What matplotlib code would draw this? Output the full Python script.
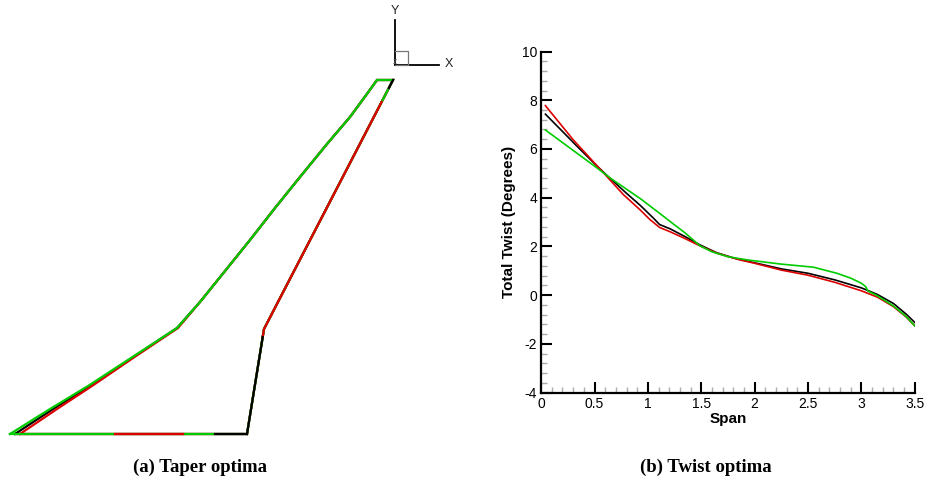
import numpy as np
import matplotlib.pyplot as plt
from matplotlib.ticker import MultipleLocator, FuncFormatter

plt.rcParams['font.family'] = ['Liberation Sans', 'DejaVu Sans']
plt.rcParams['axes.unicode_minus'] = False

# --- Planform outlines (chordwise x, spanwise y), root leading edge at origin ---
le_y = [0, 25, 48, 78, 106, 132, 163, 194, 226, 257, 290, 317, 336, 354]
le_x_base = [2, 40, 77, 122, 164, 187, 212, 237, 262, 287, 314, 337, 351, 364]
le_x_opt_a = [7, 44, 79, 123, 165, 187, 212, 237, 262, 287, 314, 337, 351, 364]
le_x_opt_b = [-3, 37, 75, 121, 164, 187, 212, 237, 262, 287, 314, 337, 351, 364]
te_y = [354, 105, 0]
te_x = [380, 251, 234]

# spanwise stations on the trailing edge where another outline shows on top
te_black_tip = [354, 346]
te_red_out = [332, 97]
te_black_in = [97, 0]
# chordwise stations along the root chord
root_red = [102, 170]
root_black = [202, 234]

# --- Twist distributions ---
span_base = [0.04, 0.2, 0.33, 0.5, 0.62, 0.8, 0.93, 1.05, 1.11, 1.21, 1.35, 1.49,
             1.64, 1.8, 2.0, 2.25, 2.5, 2.75, 3.0, 3.15, 3.3, 3.42, 3.5]
twist_base = [7.43, 6.72, 6.14, 5.40, 4.90, 4.18, 3.68, 3.17, 2.90, 2.72, 2.40, 2.06,
              1.75, 1.53, 1.33, 1.08, 0.90, 0.63, 0.30, 0.03, -0.34, -0.78, -1.12]
span_opt_a = [0.04, 0.30, 0.52, 0.77, 0.93, 1.02, 1.11, 1.21, 1.35,
              1.49, 1.65, 1.86, 2.0, 2.25, 2.5, 2.75, 3.0, 3.15, 3.3, 3.42, 3.5]
twist_opt_a = [7.78, 6.38, 5.33, 4.13, 3.49, 3.10, 2.78, 2.60, 2.32,
               2.02, 1.72, 1.45, 1.31, 1.03, 0.82, 0.53, 0.18, -0.08, -0.47, -0.90, -1.26]
span_opt_b = [0.04, 0.49, 0.65, 0.93, 1.11, 1.21, 1.35, 1.49, 1.6, 1.75, 1.93, 2.24,
              2.55, 2.77, 2.9, 3.0, 3.04, 3.06, 3.14, 3.3, 3.42, 3.5]
twist_opt_b = [6.78, 5.33, 4.80, 3.96, 3.36, 3.02, 2.55, 2.02, 1.78, 1.58, 1.45, 1.28,
               1.15, 0.90, 0.70, 0.49, 0.35, 0.17, 0.0, -0.44, -0.88, -1.26]

BLACK = '#000000'
RED = '#dd0000'
GREEN = '#00cc00'

fig = plt.figure(figsize=(9.25, 4.86), dpi=100)

# ---------------- (a) planforms ----------------
axp = fig.add_axes([0, 0, 0.5, 1])
axp.set_xlim(-13, 449.5)
axp.set_ylim(-52, 434)
axp.axis('off')


def outline(le_x):
    xs = list(le_x) + te_x + [le_x[0]]
    ys = list(le_y) + te_y + [le_y[0]]
    return xs, ys


def te_piece(y_range):
    ys = sorted(y_range)
    if ys[0] < te_y[1] < ys[1]:
        ys = [ys[0], te_y[1], ys[1]]
    xs = np.interp(ys, te_y[::-1], te_x[::-1])
    return xs, ys


lw = 1.6
for le_x, c in [(le_x_base, BLACK), (le_x_opt_a, RED), (le_x_opt_b, GREEN)]:
    xs, ys = outline(le_x)
    axp.plot(xs, ys, color=c, lw=lw, solid_joinstyle='miter')

for y_range, c in [(te_black_tip, BLACK), (te_red_out, RED), (te_black_in, BLACK)]:
    xs, ys = te_piece(y_range)
    axp.plot(xs, ys, color=c, lw=lw)
for x_range, c in [(root_red, RED), (root_black, BLACK)]:
    axp.plot(x_range, [0, 0], color=c, lw=lw)

# coordinate triad
ox, oy, L = 382, 369, 45
axp.plot([ox, ox], [oy, oy + L], color='black', lw=1.3)
axp.plot([ox, ox + 44], [oy, oy], color='black', lw=1.3)
axp.plot([ox, ox + 13, ox + 13, ox], [oy + 14, oy + 14, oy, oy], color='#777777', lw=0.9)
axp.text(ox, oy + L + 9, 'Y', ha='center', va='center', fontsize=9, color='#222222')
axp.text(ox + 54, oy + 1, 'X', ha='center', va='center', fontsize=9, color='#222222')
axp.text(ox, oy + 2, 'Z', ha='center', va='center', fontsize=5, color='#777777')

fig.text(0.216, 0.039, '(a) Taper optima', ha='center', va='center',
         family=['Liberation Serif', 'DejaVu Serif'], fontweight='bold', fontsize=13.5)

# ---------------- (b) twist ----------------
ax = fig.add_axes([0.585, 0.192, 0.404, 0.702])
ax.plot(span_base, twist_base, color=BLACK, lw=1.2)
ax.plot(span_opt_a, twist_opt_a, color=RED, lw=1.2)
ax.plot(span_opt_b, twist_opt_b, color=GREEN, lw=1.2)

ax.set_xlim(0, 3.5)
ax.set_ylim(-4, 10)
for s in ('top', 'right'):
    ax.spines[s].set_visible(False)
for s in ('left', 'bottom'):
    ax.spines[s].set_linewidth(1.6)

ax.xaxis.set_major_locator(MultipleLocator(0.5))
ax.xaxis.set_minor_locator(MultipleLocator(0.1))
ax.yaxis.set_major_locator(MultipleLocator(2))
ax.yaxis.set_minor_locator(MultipleLocator(0.4))
ax.xaxis.set_major_formatter(FuncFormatter(lambda v, p: f'{v:g}'))
ax.yaxis.set_major_formatter(FuncFormatter(lambda v, p: f'{v:g}'))
ax.tick_params(which='major', direction='in', length=8, width=1.5, labelsize=10, pad=3)
ax.tick_params(which='minor', direction='in', length=4.5, width=1.0, color='#aaaaaa')

ax.set_xlabel('Span', fontweight='bold', fontsize=11, labelpad=1)
ax.set_ylabel('Total Twist (Degrees)', fontweight='bold', fontsize=11, labelpad=4)

fig.text(0.763, 0.039, '(b) Twist optima', ha='center', va='center',
         family=['Liberation Serif', 'DejaVu Serif'], fontweight='bold', fontsize=13.5)

fig.savefig('out.png', dpi=100)
